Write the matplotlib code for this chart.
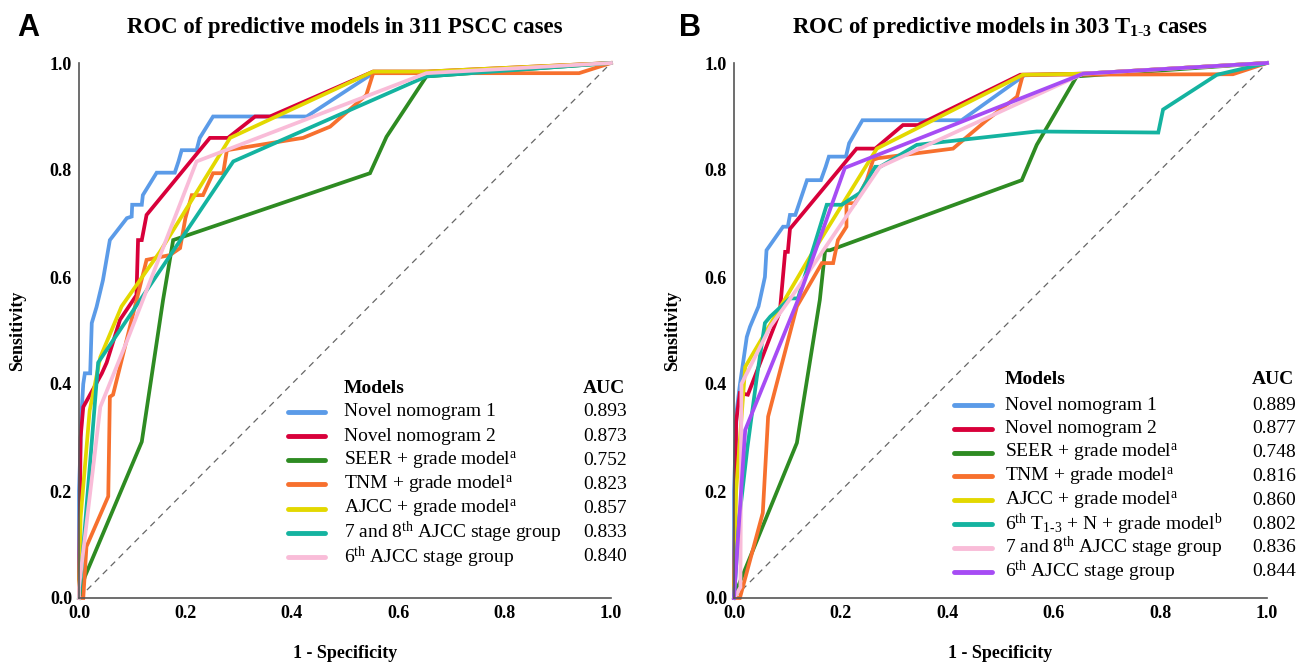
import matplotlib
matplotlib.use("Agg")
import matplotlib.pyplot as plt

plt.rcParams['font.family'] = ['Liberation Serif', 'DejaVu Serif']
plt.rcParams['mathtext.fontset'] = 'custom'
plt.rcParams['mathtext.rm'] = 'Liberation Serif'
plt.rcParams['mathtext.it'] = 'Liberation Serif:italic'
plt.rcParams['mathtext.bf'] = 'Liberation Serif:bold'

# ---- Panel A data (311 PSCC cases) ----
a_models = ["Novel nomogram 1", "Novel nomogram 2",
            r"SEER + grade model$^{\mathrm{a}}$", r"TNM + grade model$^{\mathrm{a}}$",
            r"AJCC + grade model$^{\mathrm{a}}$", r"7 and 8$^{\mathrm{th}}$ AJCC stage group",
            r"6$^{\mathrm{th}}$ AJCC stage group"]
a_auc = ["0.893", "0.873", "0.752", "0.823", "0.857", "0.833", "0.840"]

a_blue_x = [0, 0.0, 0.005, 0.008, 0.011, 0.021, 0.024, 0.033, 0.045, 0.058, 0.09, 0.099, 0.10, 0.118, 0.12,
            0.146, 0.18, 0.187, 0.193, 0.221, 0.227, 0.252, 0.428, 0.553, 0.654, 1.0]
a_blue_y = [0, 0.2, 0.35, 0.40, 0.42, 0.42, 0.514, 0.544, 0.594, 0.669, 0.71, 0.713, 0.735, 0.735, 0.753,
            0.795, 0.795, 0.816, 0.837, 0.837, 0.86, 0.90, 0.90, 0.981, 0.981, 1.0]
a_red_x = [0, 0.003, 0.008, 0.043, 0.052, 0.077, 0.108, 0.111, 0.118, 0.127, 0.246, 0.28, 0.331, 0.359,
           0.553, 0.654, 1.0]
a_red_y = [0, 0.30, 0.357, 0.42, 0.44, 0.52, 0.566, 0.669, 0.669, 0.716, 0.86, 0.86, 0.90, 0.90,
           0.984, 0.984, 1.0]
a_green_x = [0, 0.011, 0.118, 0.158, 0.177, 0.547, 0.578, 0.653, 1.0]
a_green_y = [0, 0.04, 0.292, 0.557, 0.669, 0.794, 0.862, 0.975, 1.0]
a_orange_x = [0, 0.008, 0.014, 0.055, 0.058, 0.064, 0.127, 0.171, 0.19, 0.2, 0.212, 0.233, 0.252, 0.271,
              0.278, 0.34, 0.421, 0.472, 0.54, 0.553, 0.94, 1.0]
a_orange_y = [0, 0.0, 0.096, 0.19, 0.376, 0.38, 0.632, 0.641, 0.654, 0.71, 0.753, 0.753, 0.794, 0.794,
              0.837, 0.847, 0.86, 0.881, 0.94, 0.981, 0.981, 1.0]
a_yellow_x = [0, 0.003, 0.02, 0.04, 0.08, 0.152, 0.284, 0.553, 0.654, 1.0]
a_yellow_y = [0, 0.15, 0.35, 0.45, 0.545, 0.647, 0.86, 0.984, 0.984, 1.0]
a_teal_x = [0, 0.002, 0.036, 0.29, 0.653, 1.0]
a_teal_y = [0, 0.02, 0.44, 0.816, 0.975, 1.0]
a_pink_x = [0, 0.0, 0.04, 0.09, 0.12, 0.221, 0.653, 1.0]
a_pink_y = [0, 0.02, 0.357, 0.48, 0.557, 0.816, 0.981, 1.0]

# ---- Panel B data (303 T1-3 cases) ----
b_models = ["Novel nomogram 1", "Novel nomogram 2",
            r"SEER + grade model$^{\mathrm{a}}$", r"TNM + grade model$^{\mathrm{a}}$",
            r"AJCC + grade model$^{\mathrm{a}}$",
            r"6$^{\mathrm{th}}$ T$_{\mathrm{1\text{-}3}}$ + N + grade model$^{\mathrm{b}}$",
            r"7 and 8$^{\mathrm{th}}$ AJCC stage group", r"6$^{\mathrm{th}}$ AJCC stage group"]
b_auc = ["0.889", "0.877", "0.748", "0.816", "0.860", "0.802", "0.836", "0.844"]

b_blue_x = [0, 0.0, 0.005, 0.011, 0.024, 0.03, 0.046, 0.058, 0.061, 0.092, 0.101, 0.105, 0.115, 0.137,
            0.163, 0.172, 0.178, 0.21, 0.216, 0.241, 0.427, 0.545, 0.655, 1.0]
b_blue_y = [0, 0.2, 0.35, 0.398, 0.488, 0.507, 0.545, 0.6, 0.65, 0.694, 0.694, 0.716, 0.716, 0.781,
            0.781, 0.806, 0.825, 0.825, 0.85, 0.893, 0.893, 0.977, 0.98, 1.0]
b_red_x = [0, 0.004, 0.011, 0.026, 0.086, 0.096, 0.101, 0.105, 0.23, 0.265, 0.317, 0.345, 0.537, 0.655, 1.0]
b_red_y = [0, 0.33, 0.383, 0.38, 0.535, 0.647, 0.647, 0.69, 0.84, 0.84, 0.884, 0.884, 0.978, 0.98, 1.0]
b_green_x = [0, 0.005, 0.118, 0.161, 0.171, 0.18, 0.54, 0.568, 0.643, 1.0]
b_green_y = [0, 0.015, 0.29, 0.557, 0.65, 0.65, 0.781, 0.847, 0.975, 1.0]
b_orange_x = [0, 0.011, 0.054, 0.064, 0.118, 0.165, 0.186, 0.195, 0.211, 0.211, 0.227, 0.249, 0.261,
              0.27, 0.411, 0.474, 0.531, 0.542, 0.936, 1.0]
b_orange_y = [0, 0.0, 0.159, 0.339, 0.545, 0.626, 0.626, 0.669, 0.694, 0.738, 0.738, 0.781, 0.819,
              0.822, 0.84, 0.893, 0.937, 0.978, 0.979, 1.0]
b_yellow_x = [0, 0.004, 0.021, 0.139, 0.268, 0.542, 0.655, 1.0]
b_yellow_y = [0, 0.2, 0.432, 0.632, 0.84, 0.978, 0.98, 1.0]
b_teal_x = [0, 0.01, 0.025, 0.043, 0.058, 0.068, 0.105, 0.12, 0.174, 0.202, 0.236, 0.265, 0.274, 0.343,
            0.568, 0.796, 0.805, 0.906, 1.0]
b_teal_y = [0, 0.15, 0.28, 0.414, 0.514, 0.526, 0.56, 0.56, 0.735, 0.735, 0.757, 0.806, 0.806, 0.847,
            0.872, 0.87, 0.913, 0.978, 1.0]
b_pink_x = [0, 0.012, 0.014, 0.068, 0.12, 0.274, 0.655, 1.0]
b_pink_y = [0, 0.02, 0.40, 0.507, 0.58, 0.806, 0.98, 1.0]
b_purple_x = [0, 0.021, 0.12, 0.208, 0.655, 1.0]
b_purple_y = [0, 0.314, 0.557, 0.804, 0.98, 1.0]

c_blue = '#5b9be8'
c_red = '#d8003a'
c_green = '#2e8b22'
c_orange = '#f7702e'
c_yellow = '#e3d800'
c_teal = '#14b3a0'
c_pink = '#f9bcd8'
c_purple = '#a64cf4'

a_curves = [(a_blue_x, a_blue_y, c_blue), (a_red_x, a_red_y, c_red), (a_green_x, a_green_y, c_green),
            (a_orange_x, a_orange_y, c_orange), (a_yellow_x, a_yellow_y, c_yellow),
            (a_teal_x, a_teal_y, c_teal), (a_pink_x, a_pink_y, c_pink)]
b_curves = [(b_blue_x, b_blue_y, c_blue), (b_red_x, b_red_y, c_red), (b_green_x, b_green_y, c_green),
            (b_orange_x, b_orange_y, c_orange), (b_yellow_x, b_yellow_y, c_yellow),
            (b_teal_x, b_teal_y, c_teal), (b_pink_x, b_pink_y, c_pink), (b_purple_x, b_purple_y, c_purple)]

fig = plt.figure(figsize=(12.99, 6.62), dpi=100)
ax_a = fig.add_axes([79 / 1299, 64 / 662, 532 / 1299, 535 / 662])
ax_b = fig.add_axes([734 / 1299, 64 / 662, 533 / 1299, 535 / 662])


def roc_panel(ax, curves, models, aucs, leg):
    ax.plot([0, 1], [0, 1], ls=(0, (5, 4)), color='#666666', lw=0.9, zorder=1)
    for x, y, c in curves:
        ax.plot(x, y, color=c, lw=2.7, solid_joinstyle='miter', clip_on=False, zorder=2)
    ax.set_xlim(0, 1)
    ax.set_ylim(0, 1)
    ax.set_xticks([0, 0.2, 0.4, 0.6, 0.8, 1.0])
    ax.set_yticks([0, 0.2, 0.4, 0.6, 0.8, 1.0])
    ax.set_xticklabels(['0.0', '0.2', '0.4', '0.6', '0.8', '1.0'], fontweight='bold', fontsize=13)
    ax.set_yticklabels(['0.0', '0.2', '0.4', '0.6', '0.8', '1.0'], fontweight='bold', fontsize=13)
    ax.tick_params(length=0, pad=5)
    ax.spines['top'].set_visible(False)
    ax.spines['right'].set_visible(False)
    for s in ['left', 'bottom']:
        ax.spines[s].set_color('#555555')
        ax.spines[s].set_linewidth(1.2)
    ax.set_xlabel('1 - Specificity', fontweight='bold', fontsize=13, va='center')
    ax.xaxis.set_label_coords(0.5, -0.103)
    ax.set_ylabel('Sensitivity', fontweight='bold', fontsize=13, va='center')
    ax.yaxis.set_label_coords(-0.115, 0.5)

    # legend table: key, model name, AUC
    k0, k1, tx, ax_auc, hy, y0, dy = leg
    ax.text(tx, hy, 'Models', transform=ax.transAxes, fontsize=14, fontweight='bold', va='center')
    ax.text(ax_auc, hy, 'AUC', transform=ax.transAxes, fontsize=14, fontweight='bold', va='center')
    for i, (m, v) in enumerate(zip(models, aucs)):
        y = y0 - i * dy
        ax.plot([k0, k1], [y, y], transform=ax.transAxes, color=curves[i][2], lw=3.5,
                solid_capstyle='round', clip_on=False)
        ax.text(tx, y, m, transform=ax.transAxes, fontsize=14, va='center')
        ax.text(ax_auc, y, v, transform=ax.transAxes, fontsize=14, va='center')


roc_panel(ax_a, a_curves, a_models, a_auc, (0.393, 0.462, 0.498, 0.947, 0.3925, 0.348, 0.0452))
roc_panel(ax_b, b_curves, b_models, b_auc, (0.413, 0.484, 0.508, 0.972, 0.4075, 0.3607, 0.0445))

fig.text(345 / 1299, 1 - 28 / 662, 'ROC of predictive models in 311 PSCC cases',
         fontsize=16.4, fontweight='bold', ha='center', va='center')
fig.text(1000 / 1299, 1 - 28 / 662, r'ROC of predictive models in 303 T$_{\mathbf{1\text{-}3}}$ cases',
         fontsize=16.4, fontweight='bold', ha='center', va='center')
fig.text(28 / 1299, 1 - 28 / 662, 'A', fontsize=22, fontweight='bold', family='Liberation Sans',
         ha='center', va='center')
fig.text(690 / 1299, 1 - 28 / 662, 'B', fontsize=22, fontweight='bold', family='Liberation Sans',
         ha='center', va='center')

fig.savefig('out.png', dpi=100)
